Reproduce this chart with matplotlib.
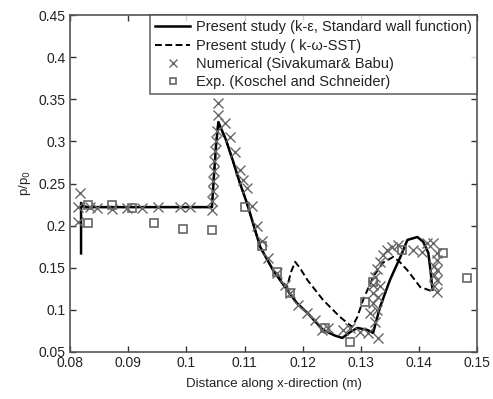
import matplotlib.pyplot as plt
import numpy as np

plt.rcParams['font.family'] = ['Liberation Sans', 'DejaVu Sans']

# k-epsilon, standard wall function
ke_x = [0.0819, 0.0819, 0.0822, 0.0830, 0.0900, 0.1000, 0.1044, 0.1047, 0.1051, 0.1055,
        0.1068, 0.1080, 0.1092, 0.1104, 0.1127, 0.1150, 0.1173, 0.1190, 0.1208, 0.1235,
        0.1255, 0.1268, 0.1282, 0.1294, 0.1311, 0.1321, 0.1333, 0.1350, 0.1368, 0.1380,
        0.1397, 0.1407, 0.1416, 0.1420, 0.1423]
ke_y = [0.167, 0.227, 0.223, 0.222, 0.222, 0.222, 0.222, 0.255, 0.295, 0.323,
        0.302, 0.277, 0.2506, 0.227, 0.1746, 0.146, 0.124, 0.108, 0.0963, 0.0761,
        0.0695, 0.0666, 0.0737, 0.0785, 0.0761, 0.0726, 0.1034, 0.1355, 0.163, 0.183,
        0.1865, 0.181, 0.1675, 0.145, 0.124]

# k-omega SST
sst_x = [0.0819, 0.0830, 0.0900, 0.1000, 0.1044, 0.1047, 0.1051, 0.1055, 0.1068, 0.1080,
         0.1092, 0.1104, 0.1127, 0.1150, 0.1173, 0.1180, 0.1187, 0.1195, 0.1208, 0.1235,
         0.1264, 0.1285, 0.1294, 0.1304, 0.1321, 0.1338, 0.1356, 0.1368, 0.1380, 0.1402,
         0.1423]
sst_y = [0.224, 0.222, 0.222, 0.222, 0.222, 0.255, 0.295, 0.323, 0.302, 0.277,
         0.2506, 0.227, 0.1746, 0.146, 0.127, 0.145, 0.157, 0.150, 0.1355, 0.1117,
         0.0916, 0.0797, 0.0916, 0.112, 0.139, 0.156, 0.163, 0.156, 0.147, 0.127,
         0.122]

# Numerical (Sivakumar & Babu)
num_x = [0.0817, 0.0814, 0.0814, 0.0834, 0.0846, 0.0872, 0.0898, 0.0924, 0.0951, 0.0989,
         0.1006, 0.1044, 0.1044, 0.1045, 0.1046, 0.1047, 0.1048, 0.1049, 0.1051, 0.1053,
         0.1055, 0.1055, 0.1067, 0.1075, 0.1084, 0.1092, 0.1098, 0.1104, 0.1113, 0.1122,
         0.1130, 0.1141, 0.1156, 0.1170, 0.1178, 0.1192, 0.1208, 0.1221, 0.1233, 0.1244,
         0.1270, 0.1282, 0.1299, 0.1313, 0.1330, 0.1316, 0.1320, 0.1320, 0.1321, 0.1325,
         0.1328, 0.1333, 0.1338, 0.1345, 0.1354, 0.1364, 0.1390, 0.1405, 0.1414, 0.1424,
         0.1431, 0.1431, 0.1431, 0.1431, 0.1431, 0.1426, 0.1426, 0.1426, 0.1325, 0.1327,
         0.1330, 0.1333]
num_y = [0.239, 0.222, 0.204, 0.222, 0.221, 0.220, 0.221, 0.221, 0.222, 0.222,
         0.222, 0.219, 0.229, 0.241, 0.253, 0.265, 0.277, 0.289, 0.301, 0.313,
         0.331, 0.3455, 0.322, 0.305, 0.287, 0.266, 0.254, 0.245, 0.223, 0.200,
         0.182, 0.161, 0.144, 0.130, 0.120, 0.106, 0.096, 0.088, 0.076, 0.079,
         0.076, 0.078, 0.074, 0.0725, 0.0666, 0.096, 0.108, 0.120, 0.129, 0.139,
         0.149, 0.157, 0.165, 0.171, 0.175, 0.177, 0.171, 0.169, 0.179, 0.179,
         0.168, 0.159, 0.147, 0.1355, 0.121, 0.152, 0.141, 0.128, 0.085, 0.100,
         0.115, 0.128]

# Exp. (Koschel and Schneider)
exp_x = [0.0831, 0.0831, 0.0872, 0.0907, 0.0944, 0.0994, 0.1044, 0.1101, 0.1130, 0.1156,
         0.1178, 0.1239, 0.1282, 0.1307, 0.1321, 0.1371, 0.1442, 0.1483]
exp_y = [0.2245, 0.203, 0.2245, 0.221, 0.203, 0.196, 0.195, 0.222, 0.176, 0.145,
         0.120, 0.0785, 0.062, 0.109, 0.133, 0.171, 0.167, 0.138]

xticks = [0.08, 0.09, 0.10, 0.11, 0.12, 0.13, 0.14, 0.15]
xtick_labels = ['0.08', '0.09', '0.1', '0.11', '0.12', '0.13', '0.14', '0.15']
yticks = [0.05, 0.10, 0.15, 0.20, 0.25, 0.30, 0.35, 0.40, 0.45]
ytick_labels = ['0.05', '0.1', '0.15', '0.2', '0.25', '0.3', '0.35', '0.4', '0.45']

fig = plt.figure(figsize=(4.93, 3.99), dpi=100)
ax = fig.add_axes([0.142, 0.118, 0.826, 0.844])

ax.plot(ke_x, ke_y, color='black', lw=1.8, label='Present study (k-\u03b5, Standard wall function)')
ax.plot(sst_x, sst_y, color='black', lw=1.4, ls=(0, (3.5, 1.8)), label='Present study ( k-\u03c9-SST)')
ax.plot(num_x, num_y, ls='none', marker='x', ms=7, mew=1.0, color='#666666',
        label='Numerical (Sivakumar& Babu)')
ax.plot(exp_x, exp_y, ls='none', marker='s', ms=5.5, mew=1.2, mfc='none', mec='#666666',
        label='Exp. (Koschel and Schneider)')

ax.set_xlim(0.08, 0.15)
ax.set_ylim(0.05, 0.45)
ax.set_xticks(xticks)
ax.set_xticklabels(xtick_labels)
ax.set_yticks(yticks)
ax.set_yticklabels(ytick_labels)
ax.tick_params(direction='in', top=True, right=True, length=4, width=1,
               labelsize=10, colors='#333333', labelcolor='#222222', pad=3)
for s in ax.spines.values():
    s.set_color('#555555')
    s.set_linewidth(1.2)

ax.set_xlabel('Distance along x-direction (m)', fontsize=9.5, color='#222222', labelpad=6)
ax.set_ylabel('p/p$_0$', fontsize=9.5, color='#222222', labelpad=4)

leg = ax.legend(loc='upper right', bbox_to_anchor=(1.0, 1.0), borderaxespad=0, fontsize=10.5,
                frameon=True, fancybox=False, edgecolor='#444444', handlelength=2.4,
                labelspacing=0.3, borderpad=0.35, handletextpad=0.4, markerscale=0.8)
leg.get_frame().set_linewidth(1.2)
for t in leg.get_texts():
    t.set_color('#222222')

fig.savefig('out.png', dpi=100)
